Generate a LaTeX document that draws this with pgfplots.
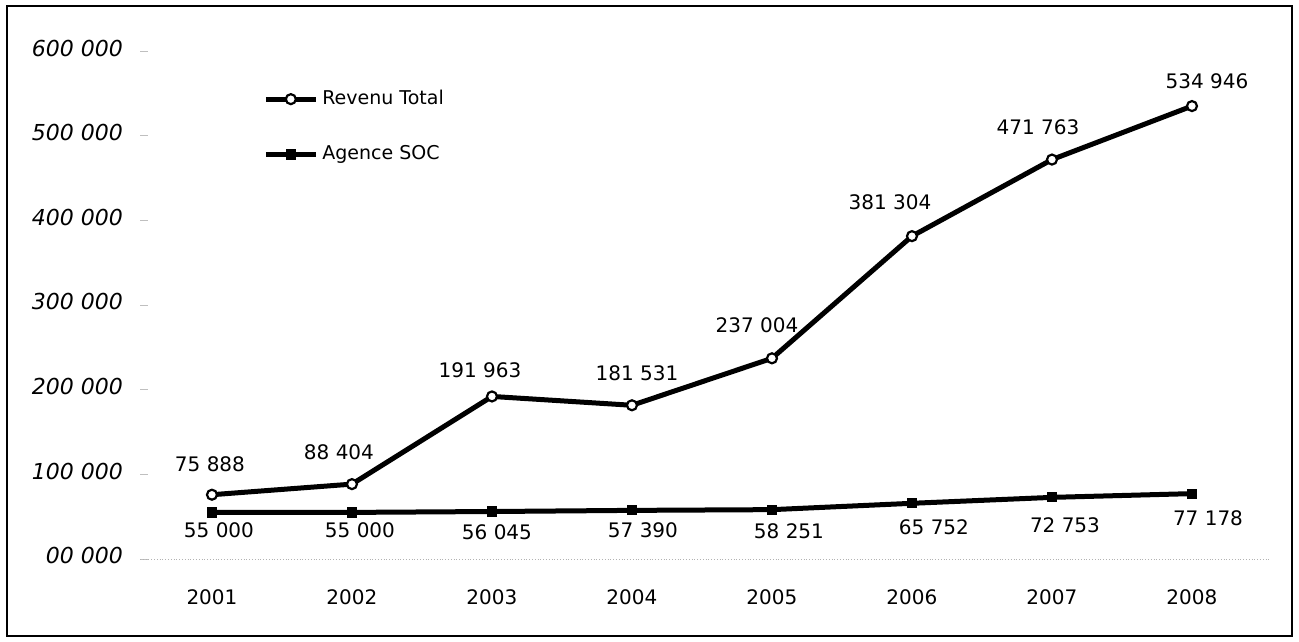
\documentclass[border=0pt]{standalone}
\usepackage{fontspec}
\setmainfont{DejaVu Sans}
\usepackage{pgfplots}
\usepackage{pgfplotstable}
\pgfplotsset{compat=1.18}

% dx, dy: label offsets in pt
\pgfplotstableread{
year  val     dx    dy
2001  75888   -1    15.5
2002  88404   -6.5  16
2003  191963  -6    13
2004  181531  2.5   16
2005  237004  -7.5  16.5
2006  381304  -11   17
2007  471763  -7    16
2008  534946  7.5   12.5
}\revenu

\pgfplotstableread{
year  val     dx    dy
2001  55000   3.5   -9
2002  55000   4     -9
2003  56045   2.5   -10.5
2004  57390   5.5   -10
2005  58251   8.5   -11
2006  65752   11    -12
2007  72753   6.5   -14
2008  77178   8     -12.5
}\agence

\begin{document}
\begin{tikzpicture}
\begin{axis}[
  scale only axis,
  width=565pt, height=254pt,
  xmin=2000.486, xmax=2008.557,
  ymin=0, ymax=600000,
  clip=false,
  axis x line*=bottom, axis y line*=left,
  x axis line style={gray!60, densely dotted, thin},
  y axis line style={draw=none},
  xtick={2001,...,2008},
  xticklabels={2001,2002,2003,2004,2005,2006,2007,2008},
  ytick={0,100000,...,600000},
  yticklabels={00 000,100 000,200 000,300 000,400 000,500 000,600 000},
  scaled y ticks=false,
  x tick style={draw=none},
  y tick style={gray!50, thin},
  major tick length=4pt,
  x tick label style={font=\fontsize{10}{12}\selectfont, yshift=-12pt},
  y tick label style={font=\fontsize{11}{13}\selectfont\itshape, xshift=-5pt, yshift=1.5pt},
  legend style={at={(rel axis cs:0.1088,0.931)}, anchor=north west,
    draw=none, fill=none, font=\fontsize{9.5}{11}\selectfont,
    row sep=15pt, inner sep=0pt, cells={anchor=west}},
  legend image code/.code={
    \draw[mark repeat=2, mark phase=2, #1] plot coordinates {(0pt,0pt) (12.5pt,0pt) (25pt,0pt)};
  },
  nodes near coords={\pgfmathprintnumber[fixed, precision=0, 1000 sep={\ }, assume math mode=true]{\pgfplotspointmeta}},
  visualization depends on={\thisrow{dx} \as \dx},
  visualization depends on={\thisrow{dy} \as \dy},
  every node near coord/.append style={anchor=center, xshift=\dx pt, yshift=\dy pt,
    font=\fontsize{10}{12}\selectfont, text=black},
]
\addplot[black, line width=2.5pt, mark=*, mark size=2.5pt,
  mark options={fill=white, line width=1.1pt}, point meta=explicit]
  table[x=year, y=val, meta=val] {\revenu};
\addlegendentry{Revenu Total}
\addplot[black, line width=2.5pt, mark=square*, mark size=2.3pt,
  mark options={line width=0.5pt}, point meta=explicit]
  table[x=year, y=val, meta=val] {\agence};
\addlegendentry{Agence SOC}
\path (rel axis cs:-0.1239,-0.1634) rectangle (rel axis cs:1.0257,1.1004);
\draw[line width=1pt] (rel axis cs:-0.1177,-0.1516) rectangle (rel axis cs:1.0195,1.0886);
\end{axis}
\end{tikzpicture}
\end{document}
